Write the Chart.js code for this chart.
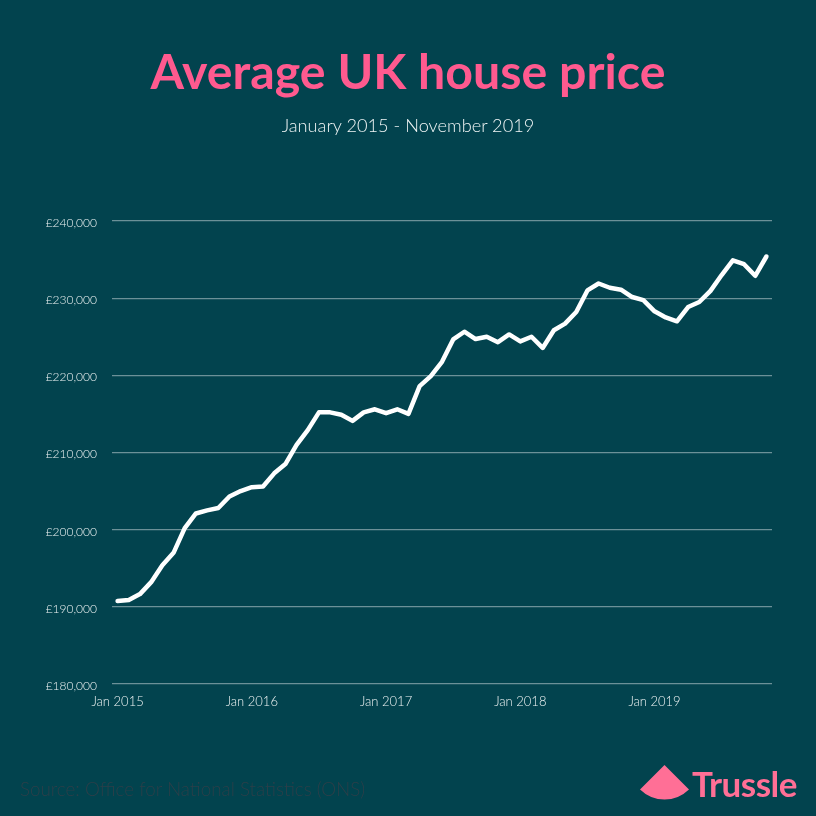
<!DOCTYPE html>
<html lang="en">
<head>
<meta charset="utf-8">
<title>Average UK house price</title>
<script src="https://cdn.jsdelivr.net/npm/chart.js@4"></script>
<style>
    html, body { margin: 0; padding: 0; background: #02434e; }
    #page { position: relative; width: 816px; height: 816px; overflow: hidden; font-family: Lato, sans-serif; }
    #page canvas { position: absolute; left: 0; top: 0; }
    .label { position: absolute; white-space: nowrap; }
    #title { left: 0; width: 816px; top: 38px; text-align: center; font-size: 48.3px; line-height: 64px; font-weight: 700; color: #ff5a8f; }
    #subtitle { left: 0; width: 816px; top: 113px; text-align: center; font-size: 18.2px; line-height: 24px; font-weight: 300; color: #f0f5f5; }
    #source { left: 20px; top: 777px; font-size: 18.8px; line-height: 24px; font-weight: 300; color: #2c3f49; }
    #brand { left: 692px; top: 761px; font-size: 35px; line-height: 44px; font-weight: 700; color: #ff6f96; letter-spacing: -0.5px; }
    #mark { position: absolute; left: 640px; top: 765px; }
</style>
</head>
<body>
<div id="page">
    <canvas id="priceChart" width="816" height="816"></canvas>
    <div class="label" id="title">Average UK house price</div>
    <div class="label" id="subtitle">January 2015 - November 2019</div>
    <div class="label" id="source">Source: Office for National Statistics (ONS)</div>
    <svg id="mark" width="50" height="36" viewBox="0 0 50 36"><path d="M24.5 0 L49 24.5 A35 35 0 0 1 0 24.5 Z" fill="#ff6f96"/></svg>
    <div class="label" id="brand">Trussle</div>
</div>
<script>
const months = [
    'Jan 2015', 'Feb 2015', 'Mar 2015', 'Apr 2015', 'May 2015', 'Jun 2015', 'Jul 2015', 'Aug 2015', 'Sep 2015', 'Oct 2015', 'Nov 2015', 'Dec 2015',
    'Jan 2016', 'Feb 2016', 'Mar 2016', 'Apr 2016', 'May 2016', 'Jun 2016', 'Jul 2016', 'Aug 2016', 'Sep 2016', 'Oct 2016', 'Nov 2016', 'Dec 2016',
    'Jan 2017', 'Feb 2017', 'Mar 2017', 'Apr 2017', 'May 2017', 'Jun 2017', 'Jul 2017', 'Aug 2017', 'Sep 2017', 'Oct 2017', 'Nov 2017', 'Dec 2017',
    'Jan 2018', 'Feb 2018', 'Mar 2018', 'Apr 2018', 'May 2018', 'Jun 2018', 'Jul 2018', 'Aug 2018', 'Sep 2018', 'Oct 2018', 'Nov 2018', 'Dec 2018',
    'Jan 2019', 'Feb 2019', 'Mar 2019', 'Apr 2019', 'May 2019', 'Jun 2019', 'Jul 2019', 'Aug 2019', 'Sep 2019', 'Oct 2019', 'Nov 2019'
];

const prices = [
    190750, 190900, 191650, 193200, 195400, 197000, 200200, 202100, 202500, 202800, 204300, 205000,
    205500, 205600, 207300, 208500, 211000, 212900, 215200, 215200, 214900, 214100, 215200, 215600,
    215100, 215600, 215000, 218600, 219900, 221750, 224650, 225650, 224700, 225000, 224300, 225300,
    224400, 225000, 223550, 225850, 226700, 228200, 231000, 231900, 231350, 231100, 230150, 229750,
    228300, 227500, 227000, 228850, 229500, 230950, 233000, 234900, 234400, 232900, 235400
];

const xTickLabels = ['Jan 2015', 'Jan 2016', 'Jan 2017', 'Jan 2018', 'Jan 2019'];
const yTicks = [180000, 190000, 200000, 210000, 220000, 230000, 240000];

const tickColor = '#eef3f3';

document.addEventListener('DOMContentLoaded', function() {
    const canvas = document.getElementById('priceChart');

    new Chart(canvas, {
        type: 'line',
        data: {
            labels: months,
            datasets: [{
                label: 'Average UK house price',
                data: prices,
                borderColor: '#ffffff',
                borderWidth: 4.5,
                tension: 0,
                pointRadius: 0,
                borderJoinStyle: 'round',
                borderCapStyle: 'round',
                fill: false
            }]
        },
        options: {
            responsive: false,
            animation: false,
            layout: {
                padding: { top: 221, right: 44, bottom: 0, left: 0 }
            },
            scales: {
                x: {
                    offset: true,
                    afterFit: scale => { scale.height = 132; },
                    grid: { display: false },
                    border: { display: false },
                    ticks: {
                        autoSkip: false,
                        maxRotation: 0,
                        padding: 2,
                        color: tickColor,
                        font: { family: 'Lato', size: 13, weight: '300' },
                        callback: function(value) {
                            const label = this.getLabelForValue(value);
                            return xTickLabels.includes(label) ? label : '';
                        }
                    }
                },
                y: {
                    min: 180000,
                    max: 240000,
                    afterFit: scale => { scale.width = 112; },
                    afterBuildTicks: scale => { scale.ticks = yTicks.map(value => ({ value })); },
                    grid: { color: 'rgba(255, 255, 255, 0.42)', lineWidth: 1.2, drawTicks: false },
                    border: { display: false },
                    ticks: {
                        padding: 15,
                        labelOffset: 2,
                        color: tickColor,
                        font: { family: 'Lato', size: 12, weight: '300' },
                        callback: value => '£' + value.toLocaleString('en-GB')
                    }
                }
            },
            plugins: {
                legend: { display: false },
                tooltip: { enabled: false }
            }
        }
    });
});
</script>
</body>
</html>
